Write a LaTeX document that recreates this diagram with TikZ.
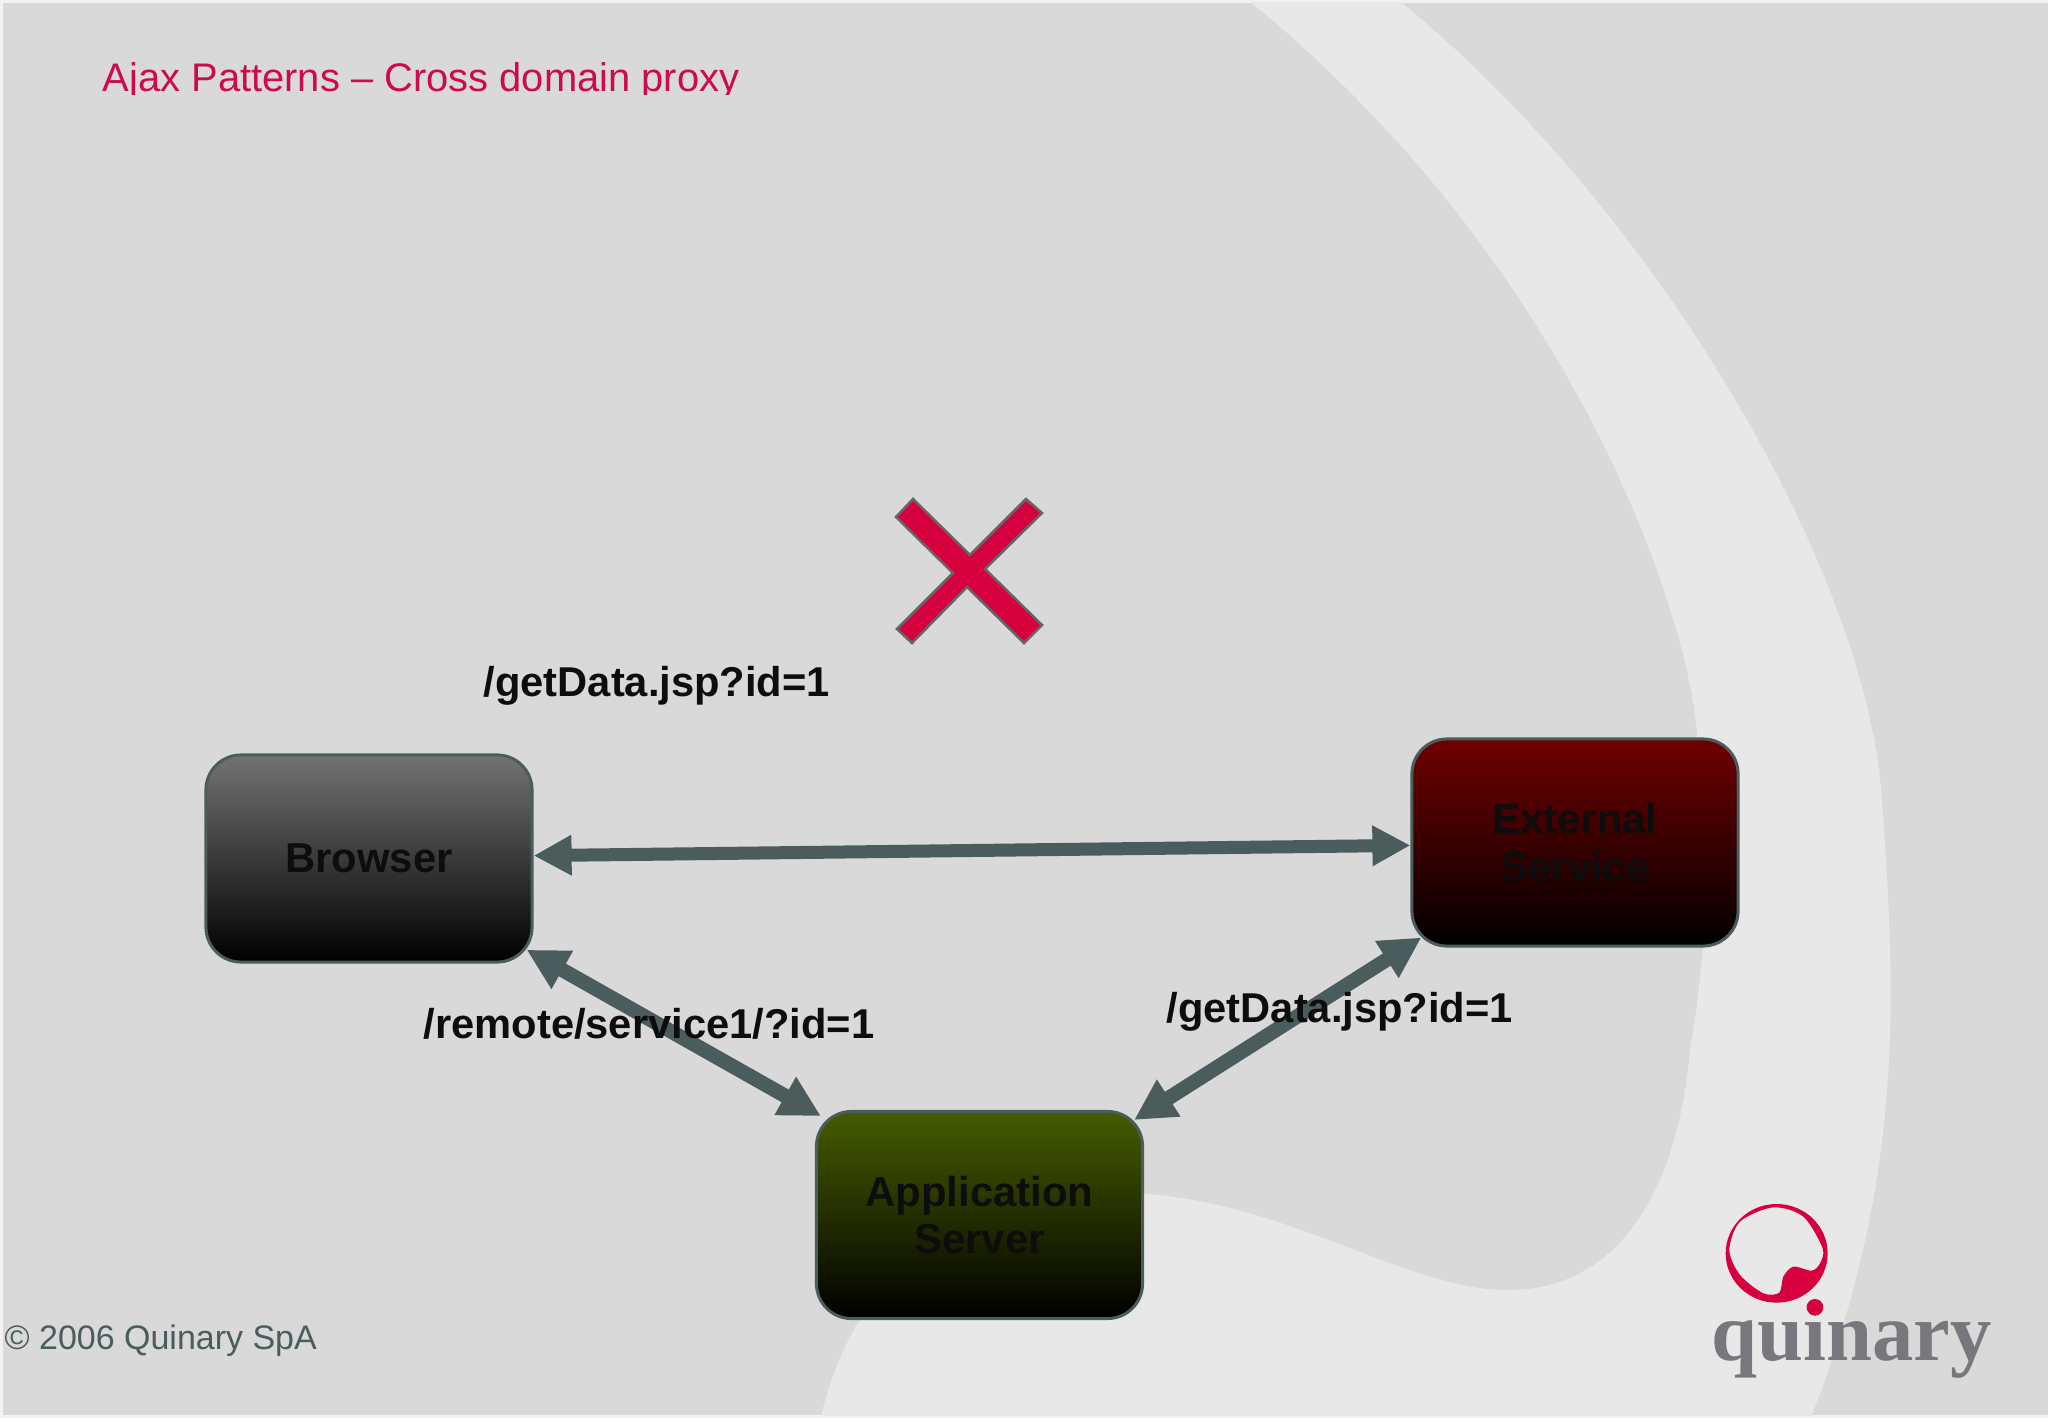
\documentclass[tikz,border=0pt]{standalone}
\usepackage{fontspec}
\setmainfont{Liberation Sans}
\newfontfamily\logofont{Liberation Serif}
\usetikzlibrary{arrows.meta}
\definecolor{slidegrey}{HTML}{D9D9DA}
\definecolor{swooshgrey}{HTML}{E8E8E9}
\definecolor{rimgrey}{HTML}{F2F2F2}
\definecolor{linkgrey}{HTML}{4A5D5C}
\definecolor{crimson}{HTML}{D6003F}
\definecolor{titlered}{HTML}{CC0A4C}
\definecolor{logogrey}{HTML}{77777D}
\tikzset{
  boxnode/.style={draw=linkgrey, line width=0.03cm, rounded corners=0.35cm, minimum width=3.26cm, minimum height=2.07cm, align=center, text=black!95, font=\fontsize{11.9}{13.4}\selectfont\bfseries, bottom color=black, inner sep=0pt},
  linklabel/.style={anchor=base west, inner sep=0pt, text=black!95, font=\fontsize{11.85}{14}\selectfont\bfseries},
  linkarrow/.style={{Triangle[length=0.38cm,width=0.38cm]}-{Triangle[length=0.38cm,width=0.38cm]}, color=linkgrey, line width=0.13cm},
  slantarrow/.style={{Triangle[length=0.41cm,width=0.41cm]}-{Triangle[length=0.41cm,width=0.41cm]}, color=linkgrey, line width=0.145cm}
}
\begin{document}
\begin{tikzpicture}[x=0.01cm,y=-0.01cm]
  \useasboundingbox (0,0) rectangle (2048,1418);
  \fill[rimgrey] (0,0) rectangle (2048,1418);
  \fill[slidegrey] (3,3) rectangle (2048,1415);
  \begin{scope}
    \clip (3,3) rectangle (2048,1415);
    \fill[swooshgrey] (1388,-8) .. controls (1640,190) and (1866,560) .. (1882,800)
      .. controls (1896,1000) and (1905,1180) .. (1808,1425) -- (819,1425)
      .. controls (850,1280) and (950,1190) .. (1147,1194)
      .. controls (1290,1205) and (1400,1285) .. (1500,1290)
      .. controls (1630,1295) and (1680,1170) .. (1690,1050)
      .. controls (1705,960) and (1715,850) .. (1697,735)
      .. controls (1690,620) and (1575,260) .. (1238,-8) -- cycle;
  \end{scope}
  \begin{scope}
    \clip (90,50) rectangle (760,94);
    \node (title) at (102,91.5) [anchor=base west, inner sep=0pt, text=titlered, font=\fontsize{11.35}{14}\selectfont] {Ajax Patterns – Cross domain proxy};
  \end{scope}
  \node (copyright) at (4,1349) [anchor=base west, inner sep=0pt, text=linkgrey, font=\fontsize{9.66}{12}\selectfont] {© 2006 Quinary SpA};
  \node (browser) at (369,858.5) [boxnode, top color=black!55] {Browser};
  \node (external) at (1575,842.5) [boxnode, top color={rgb,255:red,112;green,0;blue,0}] {External\\Service};
  \node (appserver) at (979.5,1215) [boxnode, top color={rgb,255:red,70;green,92;blue,0}] {Application\\Server};
  \draw[linkarrow] (browser.1) -- (external.181.5);
  \draw[slantarrow] ([xshift=-0.07cm]browser.-29) -- ([xshift=0.06cm]appserver.149.5);
  \draw[slantarrow] ([xshift=-0.1cm]appserver.30) -- ([xshift=0.11cm]external.210);
  \node (directlabel) at (483,696) [linklabel] {/getData.jsp?id=1};
  \node (proxylabel) at (423,1038) [linklabel] {/remote/service1/?id=1};
  \node (remotelabel) at (1166,1022) [linklabel] {/getData.jsp?id=1};
  \filldraw[fill=crimson, draw=black!60, line width=0.025cm] (913,499) -- (970,555) -- (1026,499) -- (1042,513) -- (985,569) -- (1042,625) -- (1024,643) -- (967,587) -- (912,643) -- (897,629) -- (953,573) -- (896,517) -- cycle;
  \node (logotext) at (1711,1360) [anchor=base west, inner sep=0pt, text=logogrey, font=\fontsize{23.5}{26}\logofont\bfseries\selectfont] {quinary};
  \begin{scope}[shift={(1600,1150)},scale=0.3333]
    \fill[crimson, even odd rule] (530,310) ellipse (153 and 148)
      plot[smooth cycle,tension=0.5] coordinates {(388,300) (420,215) (520,172) (610,200) (668,295) (660,340) (635,362) (580,350) (550,380) (538,428) (490,430) (420,375)};
    \fill[crimson] (645,472) circle (25);
  \end{scope}
\end{tikzpicture}
\end{document}
